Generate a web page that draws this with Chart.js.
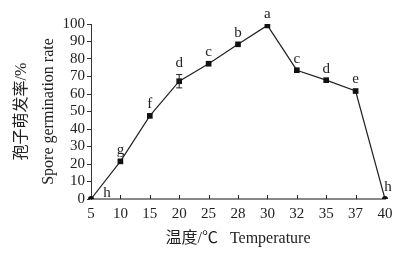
<!DOCTYPE html>
<html>
<head>
<meta charset="utf-8">
<script src="https://cdn.jsdelivr.net/npm/chart.js@4.4.0/dist/chart.umd.min.js"></script>
<style>
  html, body { margin: 0; padding: 0; background: #fff; }
  #wrap { width: 403px; height: 253px; }
</style>
</head>
<body>
<div id="wrap"><canvas id="chart1"></canvas></div>
<script>
// temperature categories and germination rate (%)
const temps = ["5", "10", "15", "20", "25", "28", "30", "32", "35", "37", "40"];
const rates = [0, 21.5, 47.5, 67.3, 77.3, 88.4, 99.2, 73.6, 67.9, 61.7, 0];
const errors = [0, 0, 0, 3.8, 0, 0, 0, 0, 0, 0, 0];
const letters = ["h", "g", "f", "d", "c", "b", "a", "c", "d", "e", "h"];
const yTicks = [0, 10, 20, 30, 40, 50, 60, 70, 80, 90, 100];

const FONT = "'Liberation Serif', 'Noto Sans CJK SC', serif";

// error bars, x ticks pointing up and the letters above points
const extras = {
    id: 'extras',
    afterDatasetsDraw(chart) {
        const ctx = chart.ctx;
        const x = chart.scales.x, y = chart.scales.y;
        ctx.save();
        ctx.strokeStyle = '#222';
        ctx.lineWidth = 1;
        // inward ticks on x axis
        for (let i = 1; i < temps.length - 1; i++) {
            const px = Math.round(x.getPixelForValue(i)) + 0.5;
            ctx.beginPath();
            ctx.moveTo(px, y.bottom);
            ctx.lineTo(px, y.bottom - 4);
            ctx.stroke();
        }
        // error bars
        for (let i = 0; i < errors.length; i++) {
            if (!errors[i]) continue;
            const px = x.getPixelForValue(i);
            const top = y.getPixelForValue(rates[i] + errors[i]);
            const bot = y.getPixelForValue(rates[i] - errors[i]);
            ctx.beginPath();
            ctx.moveTo(px, top); ctx.lineTo(px, bot);
            ctx.moveTo(px - 3, top); ctx.lineTo(px + 3, top);
            ctx.moveTo(px - 3, bot); ctx.lineTo(px + 3, bot);
            ctx.stroke();
        }
        // letters
        ctx.fillStyle = '#222';
        ctx.font = '15px ' + FONT;
        ctx.textAlign = 'center';
        ctx.textBaseline = 'bottom';
        for (let i = 0; i < letters.length; i++) {
            let px = x.getPixelForValue(i);
            let py = y.getPixelForValue(rates[i] + errors[i]) - 4;
            if (i === 0) { px += 16; py += 6; }
            if (i === letters.length - 1) { px += 3; }
            ctx.fillText(letters[i], px, py);
        }
        ctx.restore();
    }
};

const ctx = document.getElementById("chart1").getContext('2d');
const chart = new Chart(ctx, {
    type: 'line',
    data: {
        labels: temps,
        datasets: [{
            data: rates,
            borderColor: '#222',
            borderWidth: 1.2,
            backgroundColor: '#111',
            pointStyle: rates.map((v, i) => (i === 0 || i === rates.length - 1) ? 'circle' : 'rect'),
            pointRadius: rates.map((v, i) => (i === 0 || i === rates.length - 1) ? 3 : 4),
            pointBorderWidth: 0,
            tension: 0
        }]
    },
    options: {
        responsive: true,
        maintainAspectRatio: false,
        animation: false,
        layout: { padding: { left: 0, right: 18, top: 24, bottom: 0 } },
        plugins: {
            legend: { display: false },
            tooltip: { enabled: false }
        },
        scales: {
            x: {
                offset: false,
                border: { color: '#888', width: 2 },
                grid: { display: false, drawTicks: false },
                ticks: { color: '#222', padding: 6, maxRotation: 0, autoSkip: false,
                         font: { family: FONT, size: 15 } },
                title: { display: true, text: '温度/℃   Temperature', color: '#222',
                         padding: { top: 0, bottom: 5 },
                         font: { family: FONT, size: 16 } },
                afterFit(scale) { scale.height = 54; }
            },
            y: {
                min: 0,
                max: 100,
                afterBuildTicks(scale) { scale.ticks = yTicks.map(v => ({ value: v })); },
                border: { color: '#333', width: 1 },
                grid: { drawOnChartArea: false, tickLength: 4, color: '#333' },
                ticks: { color: '#222', padding: 2, autoSkip: false, font: { family: FONT, size: 15 } },
                title: { display: true, text: ['孢子萌发率/%', 'Spore germination rate'], color: '#222',
                         padding: { top: 8, bottom: 0 },
                         font: { family: FONT, size: 16, lineHeight: 1.7 } },
                afterFit(scale) { scale.width = 91; }
            }
        }
    },
    plugins: [extras]
});
</script>
</body>
</html>
